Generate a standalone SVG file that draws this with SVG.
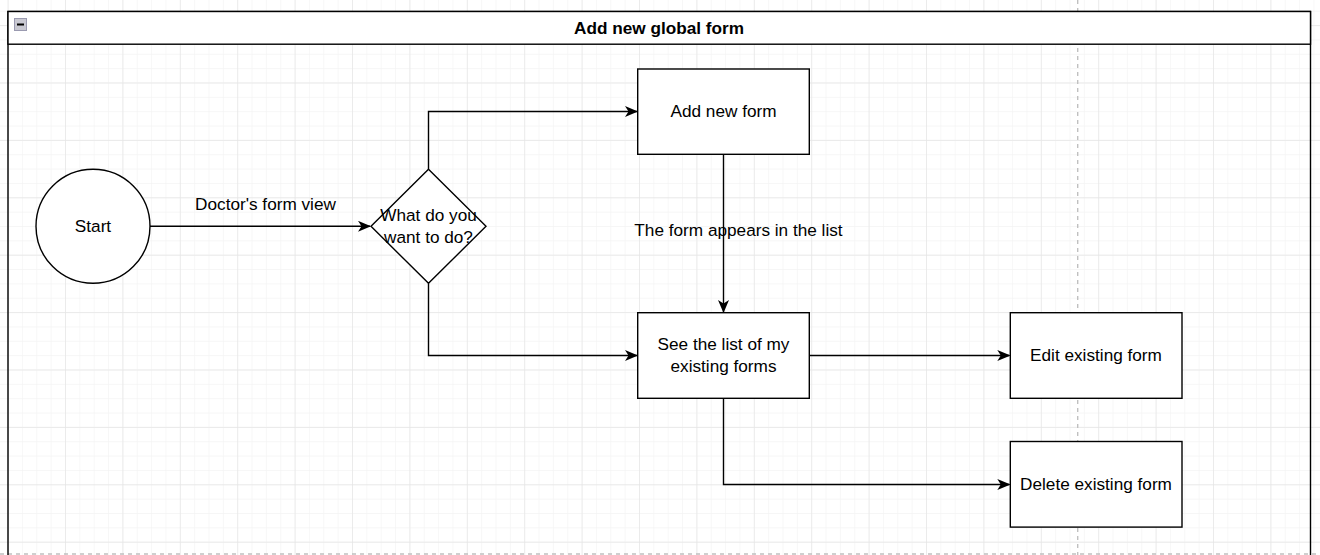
<svg xmlns="http://www.w3.org/2000/svg" width="1320" height="555" viewBox="0 0 1320 555">
<style>
.shape{fill:#ffffff;stroke:#000000;stroke-width:1.4}
.edge{fill:none;stroke:#000000;stroke-width:1.4}
text{font-family:"Liberation Sans",Arial,sans-serif;font-size:17.2px;fill:#000000}
.c{text-anchor:middle;dominant-baseline:central}
.title{font-weight:bold}
.pb{stroke:#c0c0c0;stroke-width:1.4;stroke-dasharray:4 4;fill:none}
</style>
<defs>
<pattern id="minor" patternUnits="userSpaceOnUse" x="7.6" y="25.1" width="14.35" height="14.35">
<path d="M0 0H14.35M0 0V14.35" stroke="#f3f3f3" stroke-width="1.2" fill="none"/>
</pattern>
<pattern id="major" patternUnits="userSpaceOnUse" x="7.6" y="25.1" width="57.4" height="57.4">
<path d="M0 0H57.4M0 0V57.4" stroke="#e6e6e6" stroke-width="1.4" fill="none"/>
</pattern>
<marker id="arrow" viewBox="0 0 13 11" refX="12" refY="5.5" markerWidth="13" markerHeight="11" markerUnits="userSpaceOnUse" orient="auto">
<path d="M0 0L13 5.5L0 11L3.5 5.5Z" fill="#000000"/>
</marker>
</defs>
<rect width="1320" height="555" fill="#ffffff"/>
<rect width="1320" height="555" fill="url(#minor)"/>
<rect width="1320" height="555" fill="url(#major)"/>
<line class="pb" x1="1077.7" y1="0" x2="1077.7" y2="555"/>
<line class="pb" x1="0" y1="554" x2="1320" y2="554"/>

<g id="container">
<rect x="8" y="11.5" width="1302.5" height="560" fill="none" stroke="#000000" stroke-width="1.4"/>
<rect x="8" y="11.5" width="1302.5" height="32.7" fill="#ffffff" stroke="#000000" stroke-width="1.4"/>
<rect x="14.5" y="18.5" width="12" height="12" fill="#c9c9d2" stroke="#9a9ab0" stroke-width="1"/>
<line x1="17" y1="24.5" x2="24" y2="24.5" stroke="#000000" stroke-width="2"/>
<text class="c title" x="659" y="27.5">Add new global form</text>
</g>

<g id="connectors">
<line class="edge" x1="150" y1="226.3" x2="370" y2="226.3" marker-end="url(#arrow)"/>
<text class="c" x="265.5" y="203.5">Doctor's form view</text>
<polyline class="edge" points="428.5,169.3 428.5,111.5 637,111.5" marker-end="url(#arrow)"/>
<polyline class="edge" points="428.5,283.3 428.5,355.5 637,355.5" marker-end="url(#arrow)"/>
<line class="edge" x1="723.5" y1="154.3" x2="723.5" y2="312" marker-end="url(#arrow)"/>
<text class="c" x="738.5" y="229.5">The form appears in the list</text>
<line class="edge" x1="809.3" y1="355.5" x2="1009.3" y2="355.5" marker-end="url(#arrow)"/>
<polyline class="edge" points="723.5,398.3 723.5,484.5 1009.3,484.5" marker-end="url(#arrow)"/>
</g>

<g id="start">
<circle class="shape" cx="93" cy="226.3" r="57"/>
<text class="c" x="93" y="225.5">Start</text>
</g>

<g id="decision">
<polygon class="shape" points="428.5,169.3 486,226.3 428.5,283.3 371,226.3"/>
<text class="c" x="428.5" y="215">What do you</text>
<text class="c" x="428.5" y="236.5">want to do?</text>
</g>

<g id="add-new-form">
<rect class="shape" x="637.7" y="69" width="171.6" height="85.3"/>
<text class="c" x="723.5" y="110.5">Add new form</text>
</g>

<g id="see-list">
<rect class="shape" x="637.7" y="312.7" width="171.6" height="85.6"/>
<text class="c" x="723.5" y="344">See the list of my</text>
<text class="c" x="723.5" y="365.5">existing forms</text>
</g>

<g id="edit-form">
<rect class="shape" x="1010.3" y="312.7" width="171.7" height="85.6"/>
<text class="c" x="1096" y="354.5">Edit existing form</text>
</g>

<g id="delete-form">
<rect class="shape" x="1010.3" y="441.5" width="171.7" height="85.6"/>
<text class="c" x="1096" y="483.5">Delete existing form</text>
</g>
</svg>
